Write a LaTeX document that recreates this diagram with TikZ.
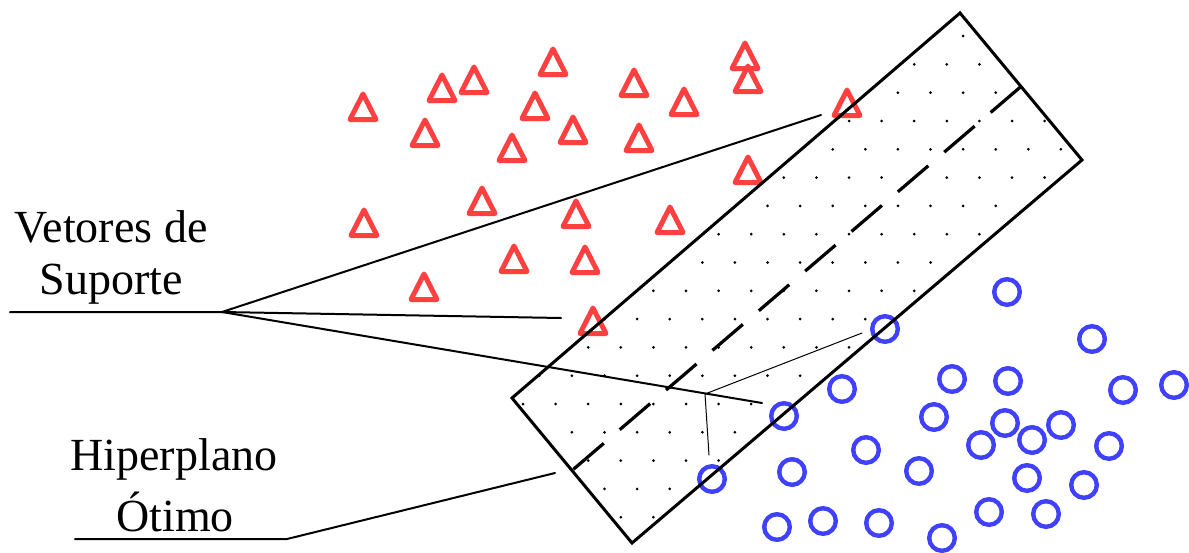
\documentclass[tikz,border=0pt]{standalone}
\usepackage{fontspec}
\setmainfont{Liberation Serif}
\usetikzlibrary{calc}
\definecolor{trired}{RGB}{255,64,64}
\definecolor{circblue}{RGB}{64,64,255}
\tikzstyle{lbl} = [anchor=base, inner sep=0pt, font=\fontsize{46}{55}\selectfont]
\tikzstyle{tri} = [draw=trired, line width=5pt, line join=round]
\tikzstyle{circ} = [draw=circblue, line width=4.4pt]
\tikzstyle{lead} = [line width=2pt]

\begin{document}
\begin{tikzpicture}[x=1pt,y=-1pt,line cap=round]
  \useasboundingbox (0,0) rectangle (1189,552);

  % faixa da margem
  \coordinate (c1) at (960,13);
  \coordinate (c2) at (1082,160);
  \coordinate (c3) at (632,543);
  \coordinate (c4) at (512,398);

  \begin{scope}
    \clip (c1) -- (c2) -- (c3) -- (c4) -- cycle;
    \foreach \k in {0,...,17}
      \foreach \j in {-12,...,8}
        \fill ({849+32.6*(\j+0.5*mod(\k+1,2))},{36.1+28.3*\k}) circle (1.5);
  \end{scope}

  % classe 1
  \foreach \x/\y in {363/107, 442/88, 474/80, 553/62, 425/133, 535/106,
                     512/148, 573/130, 634/83, 639/138, 684/102, 745/56,
                     748/79, 847/103, 748/170, 482/201, 364/223, 576/214,
                     670/220, 514/259, 585/260, 424/287, 593/321}
    \draw[tri] (\x,\y) ++(-13,12.5) -- ++(26,0) -- ++(-13,-25.5) -- cycle;

  % classe 2
  \foreach \x/\y in {1007/292, 885/329, 1092/339, 842/389, 952/379, 1008/381,
                     1123/390, 1174/385, 784/416, 934/417, 1005/423, 1061/425,
                     981/445, 1032/440, 1109/446, 866/450, 919/471, 792/472,
                     712/479, 1027/478, 1084/485, 777/527, 823/521, 879/523,
                     942/538, 989/512, 1046/514}
    \draw[circ] (\x,\y) circle (12.8);

  \draw[line width=3pt, line join=miter] (c1) -- (c2) -- (c3) -- (c4) -- cycle;
  \draw[line width=3.2pt, line cap=butt, dash pattern=on 40pt off 21pt]
    ($(c1)!0.5!(c2)$) -- ($(c4)!0.5!(c3)$);

  % rotulos
  \node[lbl] (vet) at (111,242) {Vetores de};
  \node[lbl] (sup) at (111,294) {Suporte};
  \node[lbl] (hip) at (174,470) {Hiperplano};
  \node[lbl] (oti) at (175,531) {Ótimo};

  \coordinate (vl) at (10,312);
  \coordinate (fan) at (222,312);
  \coordinate (sv1) at (821,115);
  \coordinate (sv2) at (561,318);
  \coordinate (sv3) at (762,403);
  \draw[lead] (vl) -- (fan) -- (sv1);
  \draw[lead] (fan) -- (sv2);
  \draw[lead] (fan) -- (sv3);

  \coordinate (jn) at (705,394);
  \coordinate (m1) at (862,333);
  \coordinate (m2) at (709,455);
  \draw[line width=1pt] (m1) -- (jn) -- (m2);

  \coordinate (hl) at (75,539);
  \coordinate (hk) at (287,539);
  \coordinate (hp) at (555,473);
  \draw[lead] (hl) -- (hk) -- (hp);
\end{tikzpicture}
\end{document}
